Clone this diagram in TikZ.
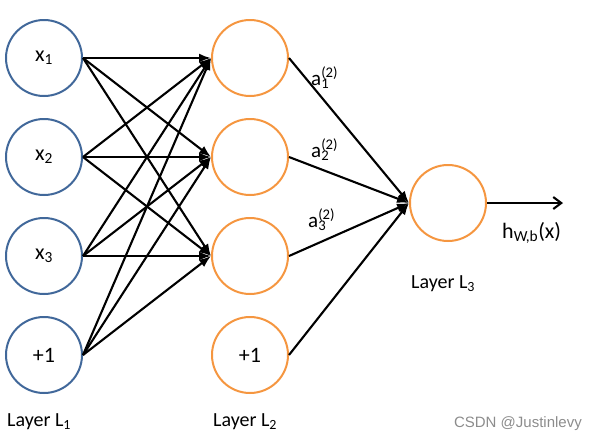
\documentclass[tikz,border=0pt]{standalone}
\usepackage{fontspec}
\setmainfont{Carlito}
\newfontfamily\wmfont{Liberation Sans}
\usetikzlibrary{arrows.meta}
\definecolor{inblue}{HTML}{41689A}
\definecolor{hidorange}{HTML}{F59640}
\newcommand{\supsubtxt}[3]{#1\rlap{\textsuperscript{#2}}\textsubscript{#3}\phantom{\textsuperscript{#2}}}
\begin{document}
\begin{tikzpicture}[x=1pt,y=-1pt,
  neuron/.style={circle,line width=2pt,minimum size=76pt,inner sep=0pt,font=\fontsize{22}{24}\selectfont},
  inneuron/.style={neuron,draw=inblue},
  hidneuron/.style={neuron,draw=hidorange},
  conn/.style={line width=2.1pt,-{Latex[length=12pt,width=9pt]}},
  lbl/.style={font=\fontsize{20}{22}\selectfont,inner sep=0pt},
  alab/.style={font=\fontsize{21}{23}\selectfont,inner sep=0pt,anchor=base west}]
\useasboundingbox (0,0) rectangle (597,440);
% layer 1
\node[inneuron] (x1) at (44,58) {x\textsubscript{1}};
\node[inneuron] (x2) at (44,157) {x\textsubscript{2}};
\node[inneuron] (x3) at (44,256) {x\textsubscript{3}};
\node[inneuron] (b1) at (44,355) {+1};
% layer 2
\node[hidneuron] (h1) at (250,58) {};
\node[hidneuron] (h2) at (250,157) {};
\node[hidneuron] (h3) at (250,256) {};
\node[hidneuron] (b2) at (250,355) {+1};
% layer 3
\node[hidneuron] (o) at (448,203) {};
\coordinate (out) at (563,203);
% connections layer 1 -> 2
\foreach \s in {x1,x2,x3,b1}{
  \foreach \t in {h1,h2,h3}{
    \draw[conn] (\s.east) -- (\t.west);
  }
}
% connections layer 2 -> 3
\foreach \s in {h1,h2,h3,b2}{
  \draw[conn] (\s.east) -- (o.west);
}
\draw[line width=2.1pt,-{Straight Barb[length=8pt,width=12pt]}] (o.east) -- (out);
% labels
\node[alab] (a1) at (311,85) {\supsubtxt{a}{(2)}{1}};
\node[alab] (a2) at (311,157) {\supsubtxt{a}{(2)}{2}};
\node[alab] (a3) at (308,227) {\supsubtxt{a}{(2)}{3}};
\node[alab,font=\fontsize{22}{24}\selectfont] (hx) at (502,238) {h\textsubscript{W,b}(x)};
\node[lbl,anchor=base west] (L1) at (7,426) {Layer L\textsubscript{1}};
\node[lbl,anchor=base west] (L2) at (213,426) {Layer L\textsubscript{2}};
\node[lbl,anchor=base west] (L3) at (411,288) {Layer L\textsubscript{3}};
\node[font=\wmfont\fontsize{15}{17}\selectfont,text=black!45,inner sep=0pt,anchor=base east] (wm) at (582,427) {CSDN @Justinlevy};
\end{tikzpicture}
\end{document}
